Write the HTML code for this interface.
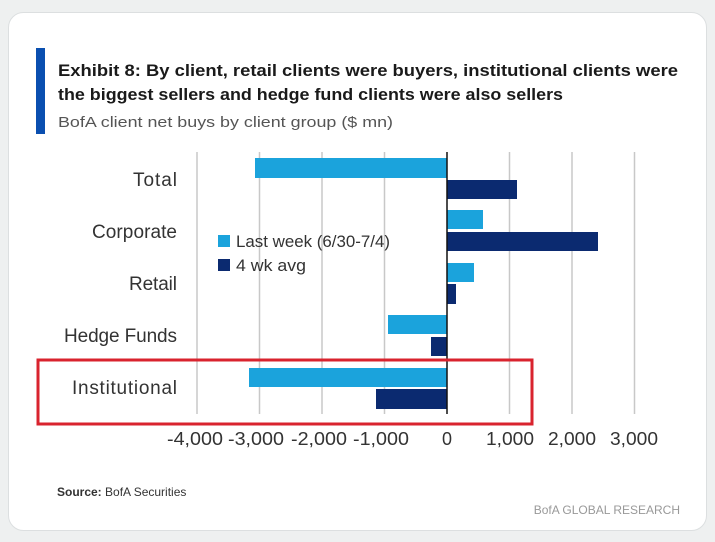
<!DOCTYPE html>
<html><head><meta charset="utf-8"><style>
html,body{margin:0;padding:0;background:#eef0f0;}
</style></head><body>
<svg width="715" height="537" xmlns="http://www.w3.org/2000/svg" font-family="Liberation Sans, sans-serif">
<rect x="0" y="0" width="715" height="537" fill="#eef0f0"/>
<rect x="8.5" y="12.5" width="698" height="518" rx="15" fill="#ffffff" stroke="#dcdfe0"/>
<rect x="36" y="48" width="9" height="86" fill="#0a4fb0"/>
<text x="58" y="76" font-size="17" font-weight="bold" fill="#1a1a1a" textLength="620" lengthAdjust="spacingAndGlyphs">Exhibit 8: By client, retail clients were buyers, institutional clients were</text>
<text x="58" y="100" font-size="17" font-weight="bold" fill="#1a1a1a" textLength="505" lengthAdjust="spacingAndGlyphs">the biggest sellers and hedge fund clients were also sellers</text>
<text x="58" y="127" font-size="15" fill="#555" textLength="335" lengthAdjust="spacingAndGlyphs">BofA client net buys by client group ($ mn)</text>
<g stroke="#c8c8c8" stroke-width="1.5">
<line x1="197" y1="152" x2="197" y2="414"/>
<line x1="259.5" y1="152" x2="259.5" y2="414"/>
<line x1="322" y1="152" x2="322" y2="414"/>
<line x1="384.5" y1="152" x2="384.5" y2="414"/>
<line x1="509.5" y1="152" x2="509.5" y2="414"/>
<line x1="572" y1="152" x2="572" y2="414"/>
<line x1="634.5" y1="152" x2="634.5" y2="414"/>
</g>
<g fill="#1ba3dc">
<rect x="255" y="158" width="192" height="20"/>
<rect x="447" y="210" width="36" height="19"/>
<rect x="447" y="263" width="27" height="19"/>
<rect x="388" y="315" width="59" height="19"/>
<rect x="249" y="368" width="198" height="19"/>
</g>
<g fill="#0b2a70">
<rect x="447" y="180" width="70" height="19"/>
<rect x="447" y="232" width="151" height="19"/>
<rect x="447" y="284" width="9" height="20"/>
<rect x="431" y="337" width="16" height="19"/>
<rect x="376" y="389" width="71" height="20"/>
</g>
<line x1="447" y1="152" x2="447" y2="414" stroke="#111" stroke-width="1.5"/>
<g font-size="19" fill="#333" text-anchor="end" lengthAdjust="spacingAndGlyphs">
<text x="177" y="186" textLength="44">Total</text>
<text x="177" y="238" textLength="85">Corporate</text>
<text x="177" y="290" textLength="48">Retail</text>
<text x="177" y="342" textLength="113">Hedge Funds</text>
<text x="177" y="394" textLength="105">Institutional</text>
</g>
<rect x="218" y="235" width="12" height="12" fill="#1ba3dc"/>
<text x="236" y="247" font-size="17" fill="#333" textLength="154" lengthAdjust="spacingAndGlyphs">Last week (6/30-7/4)</text>
<rect x="218" y="259" width="12" height="12" fill="#0b2a70"/>
<text x="236" y="271" font-size="17" fill="#333" textLength="70" lengthAdjust="spacingAndGlyphs">4 wk avg</text>
<g font-size="18" fill="#333" text-anchor="middle">
<text x="195" y="445" textLength="56" lengthAdjust="spacingAndGlyphs">-4,000</text>
<text x="256" y="445" textLength="56" lengthAdjust="spacingAndGlyphs">-3,000</text>
<text x="319" y="445" textLength="56" lengthAdjust="spacingAndGlyphs">-2,000</text>
<text x="381" y="445" textLength="56" lengthAdjust="spacingAndGlyphs">-1,000</text>
<text x="447" y="445">0</text>
<text x="510" y="445" textLength="48" lengthAdjust="spacingAndGlyphs">1,000</text>
<text x="572" y="445" textLength="48" lengthAdjust="spacingAndGlyphs">2,000</text>
<text x="634" y="445" textLength="48" lengthAdjust="spacingAndGlyphs">3,000</text>
</g>
<rect x="38" y="360" width="494" height="64" fill="none" stroke="#d9232e" stroke-width="3"/>
<text x="57" y="496" font-size="12" fill="#333"><tspan font-weight="bold">Source:</tspan> BofA Securities</text>
<text x="680" y="514" font-size="12" fill="#999" text-anchor="end">BofA GLOBAL RESEARCH</text>
</svg>
</body></html>
